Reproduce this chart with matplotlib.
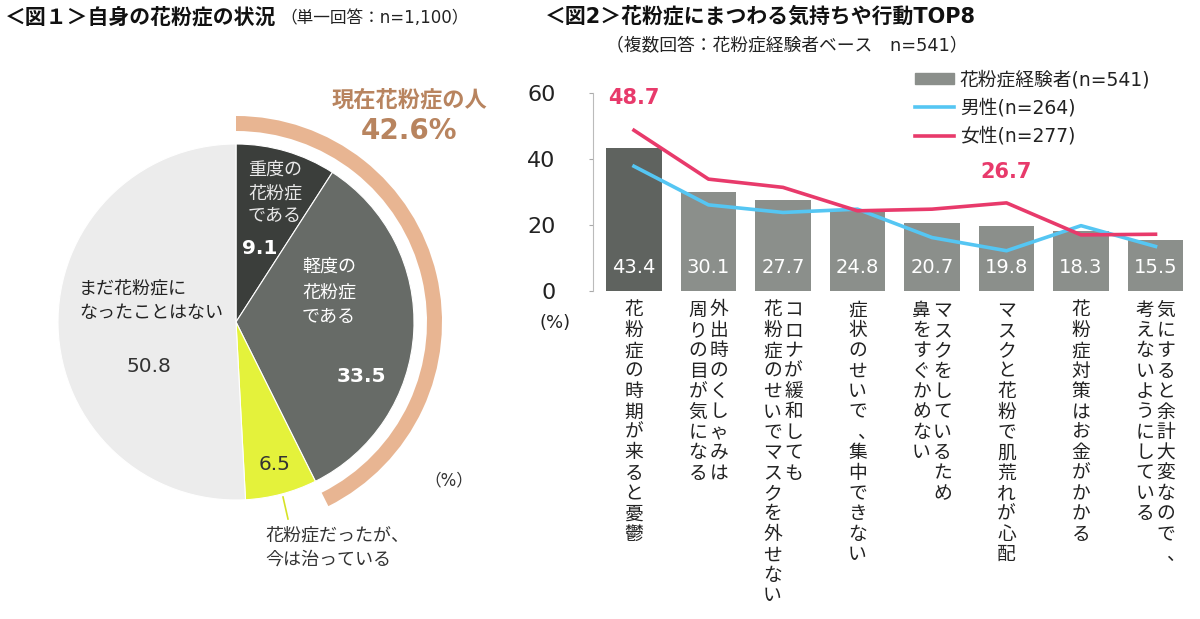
import numpy as np
import matplotlib
matplotlib.use('Agg')
import matplotlib.pyplot as plt
from matplotlib.patches import Wedge, Patch
from matplotlib.lines import Line2D

plt.rcParams['font.family'] = ['DejaVu Sans', 'Noto Sans CJK JP']

# 図1 データ
pie_labels = ['重度の花粉症である', '軽度の花粉症である', '花粉症だったが、今は治っている', 'まだ花粉症になったことはない']
pie_values = [9.1, 33.5, 6.5, 50.8]
pie_colors = ['#3b3e3b', '#676b67', '#e4f23b', '#ececec']
current_total = 42.6

# 図2 データ
categories = [
    ['花粉症の時期が来ると憂鬱'],
    ['外出時のくしゃみは', '周りの目が気になる'],
    ['コロナが緩和しても', '花粉症のせいでマスクを外せない'],
    ['症状のせいで、集中できない'],
    ['マスクをしているため', '鼻をすぐかめない'],
    ['マスクと花粉で肌荒れが心配'],
    ['花粉症対策はお金がかかる'],
    ['気にすると余計大変なので、', '考えないようにしている'],
]
total = [43.4, 30.1, 27.7, 24.8, 20.7, 19.8, 18.3, 15.5]
male = [37.8, 26.1, 23.8, 24.8, 16.2, 12.2, 19.8, 13.5]
female = [48.7, 33.9, 31.4, 24.3, 24.8, 26.7, 17.0, 17.2]

W, H = 1200, 619
fig = plt.figure(figsize=(W / 100, H / 100), dpi=100)


def ft(x, y, s, **kw):
    fig.text(x / W, 1 - y / H, s, **kw)


# タイトル
ft(5, 17, '＜図１＞自身の花粉症の状況', fontsize=15, fontweight='bold', va='center', color='#111111')
ft(280, 18, '（単一回答：n=1,100）', fontsize=12, va='center', color='#222222')
ft(545, 16, '＜図2＞花粉症にまつわる気持ちや行動TOP8', fontsize=15, fontweight='bold', va='center', color='#111111')
ft(606, 46, '（複数回答：花粉症経験者ベース　n=541）', fontsize=12.8, va='center', color='#222222')

# ---- 円グラフ ----
axp = fig.add_axes([0, 0, 540 / W, 1])
cx, cy, r = 236, H - 322, 178


def fy(y):
    return H - y


axp.pie(pie_values, colors=pie_colors, startangle=90, counterclock=False,
        center=(cx, cy), radius=r,
        wedgeprops=dict(edgecolor='white', linewidth=0.8))
ring = Wedge((cx, cy), 206, 90 - current_total * 3.6, 90, width=15, color='#e8b592', lw=0)
axp.add_patch(ring)
axp.set_xlim(0, 540)
axp.set_ylim(0, H)
axp.set_aspect('equal')
axp.axis('off')

tk = dict(fontsize=13, va='center', ha='left')
for i, s in enumerate(['重度の', '花粉症', 'である']):
    axp.text(248, fy(170 + i * 23), s, color='#e8e8e8', **tk)
axp.text(242, fy(249), '9.1', fontsize=14.5, fontweight='bold', color='white', va='center')
for i, s in enumerate(['軽度の', '花粉症', 'である']):
    axp.text(302, fy(267 + i * 25), s, color='white', **tk)
axp.text(337, fy(376), '33.5', fontsize=14.5, fontweight='bold', color='white', va='center')
axp.text(79, fy(288), 'まだ花粉症に', color='#222222', **tk)
axp.text(79, fy(313), 'なったことはない', color='#222222', **tk)
axp.text(149, fy(367), '50.8', fontsize=14.5, color='#333333', va='center', ha='center')
axp.text(275, fy(465), '6.5', fontsize=14.5, color='#333333', va='center', ha='center')
axp.plot([283, 288], [fy(497), fy(519)], color='#d6e226', lw=1.2)
axp.text(265, fy(535), '花粉症だったが、', color='#333333', **tk)
axp.text(265, fy(560), '今は治っている', color='#333333', **tk)
axp.text(449, fy(480), '（%）', fontsize=12, color='#333333', va='center', ha='center')
axp.text(409, fy(100), '現在花粉症の人', fontsize=16, fontweight='bold', color='#b8845f',
         va='center', ha='center')
axp.text(409, fy(131), f'{current_total}%', fontsize=20, fontweight='bold', color='#b8845f',
         va='center', ha='center')

# ---- 棒グラフ + 折れ線 ----
ax = fig.add_axes([593 / W, (H - 291) / H, 602 / W, 198 / H])
x = np.arange(len(total))
bar_colors = ['#5f635f'] + ['#8b8f8b'] * (len(total) - 1)
ax.bar(x, total, width=0.75, color=bar_colors)
ax.plot(x, male, color='#55c6f3', lw=2.6, solid_joinstyle='round')
ax.plot(x, female, color='#e83a6b', lw=2.6, solid_joinstyle='round')
ax.set_xlim(-0.55, 7.53)
ax.set_ylim(0, 60)
ax.set_yticks([0, 20, 40, 60])
ax.tick_params(axis='y', length=3, color='#aaaaaa', pad=24, labelsize=16, labelcolor='#222222')
ax.set_xticks([])
for sp in ['top', 'right', 'bottom']:
    ax.spines[sp].set_visible(False)
ax.spines['left'].set_color('#bbbbbb')

for i, v in enumerate(total):
    ax.text(i, 7.2, f'{v}', color='white', fontsize=14, ha='center', va='center')
ax.text(0, 58.5, f'{female[0]}', color='#e83a6b', fontsize=15, fontweight='bold', ha='center', va='center')
ax.text(5, 36, f'{female[5]}', color='#e83a6b', fontsize=15, fontweight='bold', ha='center', va='center')
ft(555, 323, '(%)', fontsize=13, color='#222222', va='center', ha='center')

# 縦書きラベル
px = 0.72
colw, pitch = 21, 20.4
for i, lines in enumerate(categories):
    n = len(lines)
    for k, line in enumerate(lines):
        xo = ((n - 1) / 2 - k) * colw
        for j, ch in enumerate(line):
            dx, dy = 0, 0
            if ch == '、':
                # 縦書きの読点は右寄せ
                dx = 9
            ax.annotate(ch, xy=(i, 0), xycoords='data',
                        xytext=((xo + dx) * px, (-19 - j * pitch + dy) * px),
                        textcoords='offset points', ha='center', va='center',
                        fontsize=13.5, color='#222222', annotation_clip=False)

handles = [Patch(color='#8b8f8b'),
           Line2D([], [], color='#55c6f3', lw=2.6),
           Line2D([], [], color='#e83a6b', lw=2.6)]
labels = ['花粉症経験者(n=541)', '男性(n=264)', '女性(n=277)']
ax.legend(handles, labels, loc='upper left', bbox_to_anchor=(915 / W, 1 - 70 / H),
          bbox_transform=fig.transFigure, frameon=False, fontsize=13.5,
          borderpad=0, borderaxespad=0, handlelength=2.1, handleheight=0.55,
          handletextpad=0.3, labelspacing=0.5, labelcolor='#222222')

fig.savefig('out.png', dpi=100)
